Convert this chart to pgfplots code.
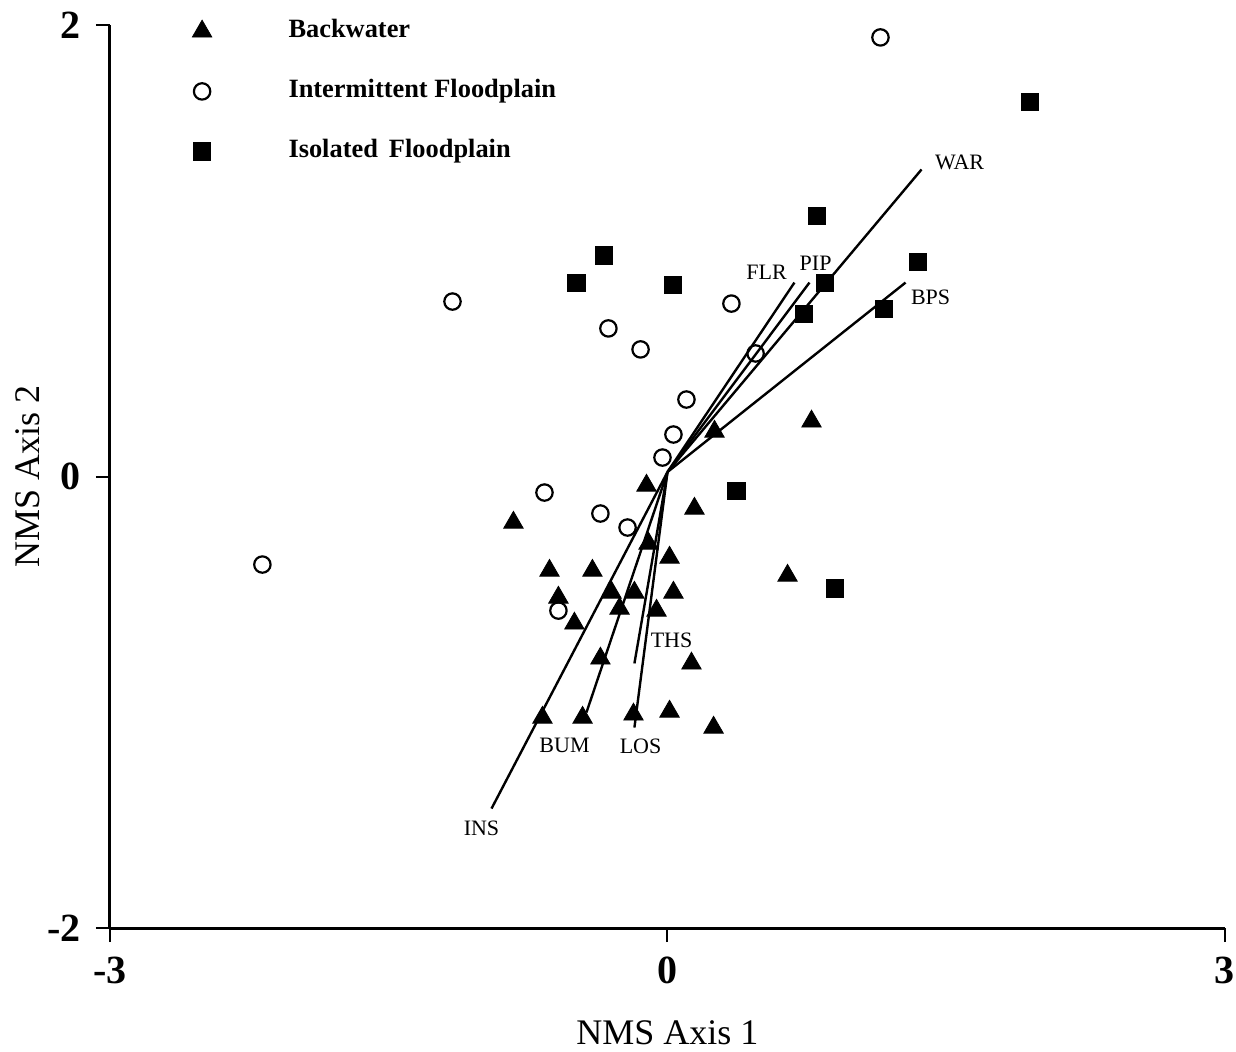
\documentclass[border=0pt]{standalone}
\usepackage{pgfplots}
\pgfplotsset{compat=1.18}
\usepackage{fontspec}
\setmainfont{Liberation Serif}

\begin{document}
\begin{tikzpicture}
\path[use as bounding box] (-55pt,-61.5pt) rectangle (563pt,464pt);
\begin{axis}[
  scale only axis,
  width=557.5pt, height=451.5pt,
  xmin=-3, xmax=3, ymin=-2, ymax=2,
  axis x line=bottom, axis y line=left,
  axis line style={-, line width=1.5pt},
  xtick={-3,0,3}, xticklabels={-3,0,3},
  ytick={-2,0,2}, yticklabels={-2,0,2},
  tick align=outside, major tick length=7pt,
  tick style={line width=1pt, black},
  ticklabel style={font=\fontsize{20}{20}\selectfont\bfseries},
  xticklabel style={anchor=center, yshift=-14pt},
  yticklabel style={anchor=east, xshift=-4pt},
  xlabel={NMS Axis 1}, ylabel={NMS Axis 2},
  label style={font=\fontsize{18}{18}\selectfont},
  xlabel style={at={(axis description cs:0.5,-0.1163)}, anchor=center},
  ylabel style={at={(axis description cs:-0.0735,0.5)}, anchor=center},
  clip=false,
  legend cell align=left,
  legend image code/.code={\path (0pt,0pt) (43pt,0pt); \draw[#1] plot coordinates {(0pt,0pt)};},
  legend style={draw=none, fill=none, at={(axis description cs:0,1)}, anchor=north west,
    xshift=41pt, yshift=3pt, row sep=18pt, inner sep=0pt,
    nodes={inner sep=0pt, text height=9pt, text depth=3pt},
    font=\fontsize{13.2}{13.2}\selectfont\bfseries},
]
% vectors
\addplot[forget plot, line width=1.2pt] coordinates {(0,0.02) (1.367,1.360)};
\addplot[forget plot, line width=1.2pt] coordinates {(0,0.02) (0.764,0.859)};
\addplot[forget plot, line width=1.2pt] coordinates {(0,0.02) (0.683,0.859)};
\addplot[forget plot, line width=1.2pt] coordinates {(0,0.02) (1.281,0.859)};
\addplot[forget plot, line width=1.2pt] coordinates {(0,0.02) (-0.947,-1.471)};
\addplot[forget plot, line width=1.2pt] coordinates {(0,0.02) (-0.436,-1.045)};
\addplot[forget plot, line width=1.2pt] coordinates {(0,0.02) (-0.178,-0.828)};
\addplot[forget plot, line width=1.2pt] coordinates {(0,0.02) (-0.178,-1.112)};

% Backwater
\addplot[only marks, mark=triangle*, mark size=5.6pt, black] coordinates {
 (0.253,0.199) (0.775,0.244) (-0.113,-0.040) (0.145,-0.142) (-0.829,-0.204)
 (-0.102,-0.297) (0.011,-0.359) (-0.635,-0.417) (-0.404,-0.417) (0.646,-0.439)
 (-0.587,-0.536) (-0.301,-0.514) (-0.178,-0.514) (0.032,-0.514) (-0.258,-0.585)
 (-0.059,-0.594) (-0.501,-0.651) (-0.361,-0.806) (0.129,-0.828) (-0.673,-1.068)
 (-0.457,-1.068) (-0.183,-1.054) (0.011,-1.041) (0.248,-1.112)};
\addlegendentry{Backwater}

% Intermittent floodplain
\addplot[only marks, mark=o, mark size=4.1pt, black, mark options={line width=1.1pt}] coordinates {
 (1.146,1.945) (-1.157,0.775) (-0.318,0.656) (-0.145,0.563) (0.344,0.766)
 (0.474,0.545) (0.102,0.341) (0.032,0.186) (-0.027,0.084) (-0.662,-0.071)
 (-0.361,-0.164) (-0.215,-0.226) (-2.180,-0.390) (-0.587,-0.594)};
\addlegendentry{Intermittent Floodplain}

% Isolated floodplain
\addplot[only marks, mark=square*, mark size=4.3pt, black] coordinates {
 (1.948,1.661) (0.802,1.156) (-0.344,0.979) (-0.490,0.859) (0.027,0.850)
 (1.346,0.952) (0.845,0.859) (0.732,0.722) (1.163,0.744) (0.371,-0.062)
 (0.899,-0.496)};
\addlegendentry{Isolated\, Floodplain}

% vector labels
\begin{scope}[every node/.style={font=\fontsize{11}{11}\selectfont, inner sep=0pt}]
\node at (axis cs:1.572,1.391) {WAR};
\node at (axis cs:0.797,0.944) {PIP};
\node at (axis cs:0.533,0.904) {FLR};
\node at (axis cs:1.416,0.793) {BPS};
\node at (axis cs:0.022,-0.726) {THS};
\node at (axis cs:-0.554,-1.192) {BUM};
\node at (axis cs:-0.145,-1.196) {LOS};
\node at (axis cs:-1.001,-1.559) {INS};
\end{scope}
\end{axis}
\end{tikzpicture}
\end{document}
